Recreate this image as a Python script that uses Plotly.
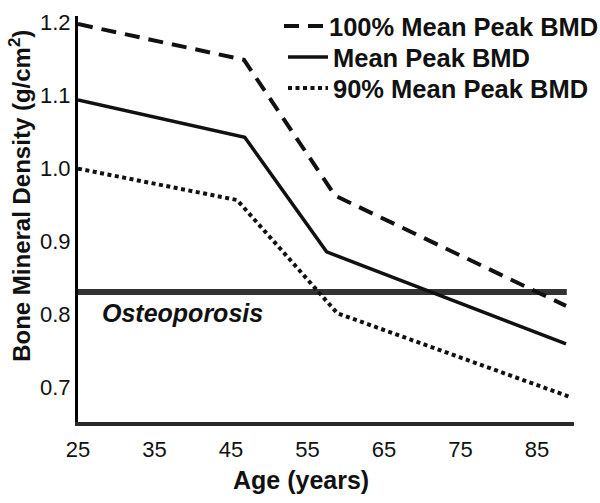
import plotly.graph_objects as go

# Data
age_pts_100 = [25, 46.7, 58.6, 88.8]
bmd_100 = [1.197, 1.148, 0.962, 0.811]

age_pts_mean = [25, 46.8, 57.5, 88.8]
bmd_mean = [1.093, 1.042, 0.885, 0.759]

age_pts_90 = [25, 45.8, 58.9, 89.4]
bmd_90 = [0.999, 0.956, 0.801, 0.686]

osteo_age = [25, 88.9]
osteo_bmd = [0.830, 0.830]

x_ticks = [25, 35, 45, 55, 65, 75, 85]
y_ticks = [0.7, 0.8, 0.9, 1.0, 1.1, 1.2]

FONT = "Liberation Sans, Arial, Helvetica, sans-serif"

fig = go.Figure()
fig.add_trace(go.Scatter(x=osteo_age, y=osteo_bmd, mode="lines", showlegend=False,
                         line=dict(color="#333333", width=6)))
fig.add_trace(go.Scatter(x=age_pts_100, y=bmd_100, mode="lines", name="100% Mean Peak BMD",
                         legend="legend",
                         line=dict(color="#111111", width=4, dash="15px,9px")))
fig.add_trace(go.Scatter(x=age_pts_mean, y=bmd_mean, mode="lines", name="Mean Peak BMD",
                         legend="legend2",
                         line=dict(color="#111111", width=3.5)))
fig.add_trace(go.Scatter(x=age_pts_90, y=bmd_90, mode="lines", name="90% Mean Peak BMD",
                         legend="legend3",
                         line=dict(color="#111111", width=4, dash="4px,3.5px")))

leg_font = dict(family=FONT, size=25.5, weight="bold", color="#111111")
def leg(x, y):
    return dict(x=x, y=y, xanchor="left", yanchor="top", bgcolor="rgba(0,0,0,0)",
                borderwidth=0, font=leg_font, itemwidth=40)

fig.update_layout(
    width=600, height=503,
    margin=dict(l=78, r=26, t=16, b=81, autoexpand=False),
    paper_bgcolor="white", plot_bgcolor="white",
    font=dict(family=FONT, color="#111111", size=22),
    legend=leg((279 - 78) / 496, (422 - 3) / 406),
    legend2=leg((283 - 78) / 496, (422 - 34) / 406),
    legend3=leg((283 - 78) / 496, (422 - 65) / 406),
    xaxis=dict(range=[25, 89.84], tickvals=x_ticks, ticktext=[str(v) for v in x_ticks],
               automargin=False,
               showgrid=False, zeroline=False, showline=True, linecolor="#2a2a2a", linewidth=4,
               ticks="", ticklabelstandoff=5, tickfont=dict(size=22)),
    yaxis=dict(range=[0.652, 1.208], tickvals=y_ticks, tickformat=".1f",
               automargin=False,
               showgrid=False, zeroline=False, showline=True, linecolor="#000000", linewidth=3,
               ticks="", ticklabelstandoff=0, tickfont=dict(size=22)),
    annotations=[
        dict(text="Bone Mineral Density (g/cm<sup>2</sup>)", textangle=-90,
             xref="paper", yref="paper", x=-0.117, y=0.557, xanchor="center", yanchor="middle",
             showarrow=False, font=dict(family=FONT, size=24, weight="bold")),
        dict(text="Age (years)", xref="paper", yref="paper", x=0.45, y=-0.143,
             xanchor="center", yanchor="middle",
             showarrow=False, font=dict(family=FONT, size=25, weight="bold")),
        dict(text="<i>Osteoporosis</i>", xref="x", yref="y", x=27.9, y=0.801,
             xanchor="left", yanchor="middle", showarrow=False,
             font=dict(family=FONT, size=25, weight="bold")),
    ],
)

fig.write_html("out.html", config={"displayModeBar": False},
               post_script="document.body.style.margin='0';document.body.style.overflow='hidden';")
